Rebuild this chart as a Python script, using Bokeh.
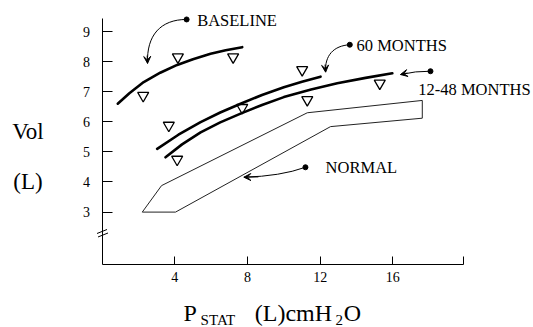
from bokeh.plotting import figure
from bokeh.models import Range1d, Label, Arrow, VeeHead, FixedTicker
from bokeh.embed import file_html
from bokeh.resources import INLINE

# ---- data ----
baseline_x = [0.86, 1.5, 2.29, 3.2, 4.13, 5.0, 5.97, 6.8, 7.71]
baseline_y = [6.60, 6.95, 7.32, 7.63, 7.89, 8.08, 8.26, 8.38, 8.48]
m60_x = [3.03, 4.2, 5.42, 6.5, 7.62, 8.8, 10.0, 11.0, 12.02]
m60_y = [5.10, 5.57, 5.99, 6.31, 6.60, 6.89, 7.15, 7.33, 7.50]
m1248_x = [3.49, 4.4, 5.42, 6.5, 7.62, 8.8, 10.0, 11.5, 12.94, 14.5, 15.97]
m1248_y = [4.82, 5.25, 5.65, 5.98, 6.27, 6.56, 6.82, 7.07, 7.28, 7.46, 7.61]
tri_x = [2.26, 4.17, 7.21, 3.67, 4.13, 7.71, 11.01, 11.29, 15.28]
tri_y = [6.87, 8.15, 8.15, 5.88, 4.75, 6.47, 7.73, 6.73, 7.28]
normal_x = [2.21, 3.27, 11.29, 17.62, 17.62, 12.57, 4.04, 2.21]
normal_y = [3.0, 3.88, 6.30, 6.71, 6.12, 5.84, 3.0, 3.0]
x_ticks = [4, 8, 12, 16, 19.9]
y_ticks = [3, 4, 5, 6, 7, 8, 9]
series_labels = ["BASELINE", "60 MONTHS", "12-48 MONTHS", "NORMAL"]

FONT = "Liberation Serif"
X0, X1 = 0, 19.9          # x axis extent
Y0, Y1 = 1.26, 9.42       # y axis extent

p = figure(width=533, height=327, x_range=Range1d(-5.592, 23.74), y_range=Range1d(-0.834, 10.03),
           output_backend="svg", toolbar_location=None,
           min_border_left=0, min_border_right=0, min_border_top=0, min_border_bottom=0)
p.outline_line_color = None
p.xgrid.visible = False
p.ygrid.visible = False
p.background_fill_color = "white"
p.border_fill_color = "white"

for ax in (p.xaxis[0], p.yaxis[0]):
    ax.axis_line_color = "black"
    ax.axis_line_width = 1
    ax.major_tick_line_color = "black"
    ax.minor_tick_line_color = None
    ax.major_tick_out = 0
    ax.major_label_text_font = FONT
    ax.major_label_text_font_size = "14px"
    ax.major_label_text_color = "black"

p.xaxis.ticker = FixedTicker(ticks=x_ticks)
p.xaxis.major_label_overrides = {19.9: ""}
p.xaxis.bounds = (X0, X1)
p.xaxis.fixed_location = Y0
p.xaxis.major_tick_in = 8
p.xaxis.major_label_standoff = 8

p.yaxis.ticker = FixedTicker(ticks=y_ticks)
p.yaxis.bounds = (Y0, Y1)
p.yaxis.fixed_location = X0
p.yaxis.major_tick_in = 10
p.yaxis.major_label_standoff = 12

# curves
for xs, ys in ((baseline_x, baseline_y), (m60_x, m60_y), (m1248_x, m1248_y)):
    p.line(xs, ys, line_color="black", line_width=2.6, line_join="round", line_cap="round")

# normal band
p.line(normal_x, normal_y, line_color="#222222", line_width=1)

# triangles
p.scatter(tri_x, tri_y, marker="inverted_triangle", size=11, fill_color=None,
          line_color="black", line_width=1.3)

# annotation arrows (curves + heads)
p.bezier(x0=[4.65], y0=[9.40], x1=[2.50], y1=[7.94], cx0=[3.21], cy0=[9.40], cx1=[2.44], cy1=[8.87],
         line_color="black", line_width=1)
p.bezier(x0=[13.63], y0=[8.56], x1=[12.30], y1=[7.65], cx0=[12.74], cy0=[8.53], cx1=[12.24], cy1=[8.20],
         line_color="black", line_width=1)
p.quadratic(x0=[18.07], y0=[7.68], x1=[16.42], y1=[7.57], cx=[17.25], cy=[7.69],
            line_color="black", line_width=1)
p.quadratic(x0=[11.19], y0=[4.49], x1=[7.80], y1=[4.16], cx=[9.82], cy=[4.19],
            line_color="black", line_width=1)
for xs, ys, xe, ye in ((2.48, 8.2, 2.50, 7.94), (12.27, 7.9, 12.30, 7.65),
                       (16.8, 7.62, 16.42, 7.57), (8.6, 4.17, 7.80, 4.16)):
    p.add_layout(Arrow(x_start=xs, y_start=ys, x_end=xe, y_end=ye, line_width=1,
                       end=VeeHead(size=7, fill_color="black", line_color="black", line_width=1)))
p.scatter([4.65, 13.63, 18.07, 11.19], [9.40, 8.56, 7.68, 4.49], marker="circle", size=5,
          fill_color="black", line_color="black")

for txt, lx, ly in zip(series_labels, [5.23, 14.0, 17.40, 12.30], [9.382, 8.535, 7.067, 4.492]):
    p.add_layout(Label(x=lx, y=ly, text=txt, text_font=FONT, text_font_size="16.5px",
                       text_color="black", text_baseline="middle", text_align="left"))

# axis break marks
for xs, ys, xe, ye in ((-0.28, 2.289, 0.27, 2.422), (-0.226, 2.173, 0.325, 2.306)):
    p.add_layout(Arrow(x_start=xs, y_start=ys, x_end=xe, y_end=ye, line_width=1, end=None, start=None))

# y axis title
p.add_layout(Label(x=-4.95, y=5.694, text="Vol", text_font=FONT, text_font_size="23px",
                   text_color="black", text_baseline="middle"))
p.add_layout(Label(x=-4.89, y=4.017, text="(L)", text_font=FONT, text_font_size="23px",
                   text_color="black", text_baseline="middle"))

# x axis title: P_STAT (L)cmH2O
for txt, lx, ly, fs in (("P", 4.48, -0.352, "24px"), ("STAT", 5.42, -0.601, "15px"),
                        ("(L)cmH", 8.40, -0.352, "24px"), ("2", 12.85, -0.601, "15px"),
                        ("O", 13.30, -0.352, "24px")):
    p.add_layout(Label(x=lx, y=ly, text=txt, text_font=FONT, text_font_size=fs,
                       text_color="black", text_baseline="middle"))

open("out.html", "w").write(file_html(p, INLINE))
